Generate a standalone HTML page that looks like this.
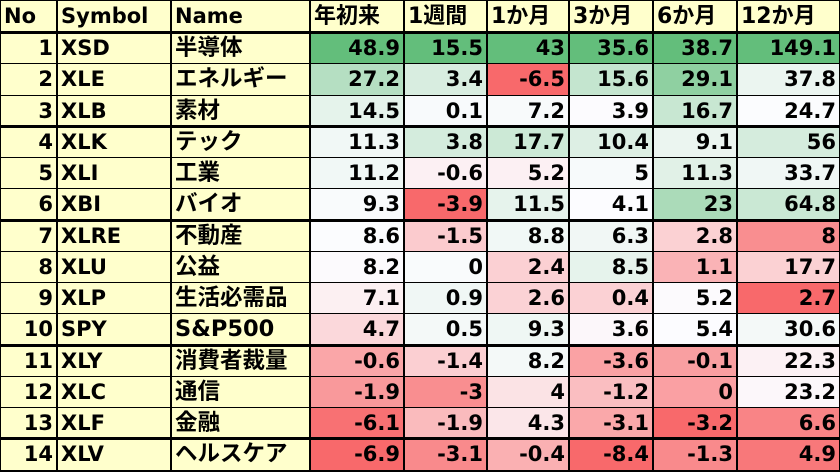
<!DOCTYPE html>
<html><head><meta charset="utf-8"><style>
body{margin:0;width:840px;height:472px;overflow:hidden;background:#FFFFCC;position:relative;font-family:"DejaVu Sans","Noto Sans CJK JP",sans-serif;font-weight:bold;font-size:21px;color:#000}
.c{position:absolute;box-sizing:border-box;line-height:31px;white-space:nowrap;overflow:hidden}
.l{position:absolute;background:#000}
</style></head><body>
<script>
const xs=[0,57,171,310,404,487,569,653,737,840];
const hdr=["No","Symbol","Name","年初来","1週間","1か月","3か月","6か月","12か月"];
const rows=[
["1","XSD","半導体",48.9,15.5,43,35.6,38.7,149.1],
["2","XLE","エネルギー",27.2,3.4,-6.5,15.6,29.1,37.8],
["3","XLB","素材",14.5,0.1,7.2,3.9,16.7,24.7],
["4","XLK","テック",11.3,3.8,17.7,10.4,9.1,56],
["5","XLI","工業",11.2,-0.6,5.2,5,11.3,33.7],
["6","XBI","バイオ",9.3,-3.9,11.5,4.1,23,64.8],
["7","XLRE","不動産",8.6,-1.5,8.8,6.3,2.8,8],
["8","XLU","公益",8.2,0,2.4,8.5,1.1,17.7],
["9","XLP","生活必需品",7.1,0.9,2.6,0.4,5.2,2.7],
["10","SPY","S&P500",4.7,0.5,9.3,3.6,5.4,30.6],
["11","XLY","消費者裁量",-0.6,-1.4,8.2,-3.6,-0.1,22.3],
["12","XLC","通信",-1.9,-3,4,-1.2,0,23.2],
["13","XLF","金融",-6.1,-1.9,4.3,-3.1,-3.2,6.6],
["14","XLV","ヘルスケア",-6.9,-3.1,-0.4,-8.4,-1.3,4.9]];
const ys=[0,32];for(let i=1;i<=14;i++)ys.push(32+i*31.25);
let h="";
function mix(a,b,t){return a.map((v,i)=>Math.round(v+(b[i]-v)*t));}
const W=[252,252,255],G=[99,190,123],R=[248,105,107];
const stats=[];
for(let c=3;c<9;c++){const v=rows.map(r=>r[c]).sort((a,b)=>a-b);stats[c]={min:v[0],max:v[13],mid:(v[6]+v[7])/2};}
hdr.forEach((t,c)=>{h+=`<div class="c" style="left:${xs[c]+4}px;top:0;width:${xs[c+1]-xs[c]-6}px;height:32px;line-height:33px;font-size:${c>=3?22:21}px">${t}</div>`;});
rows.forEach((r,i)=>{const y=ys[i+1],hh=ys[i+2]-y;
r.forEach((v,c)=>{let bg="transparent",al="left",pad="padding-left:4px",fs="";
if(c==2)fs="font-size:22.5px;";
if(c==0){al="right";pad="padding-right:4px";}
if(c>=3){al="right";pad="padding-right:4px";const s=stats[c];let col;
if(v>=s.mid)col=mix(W,G,s.max==s.mid?0:(v-s.mid)/(s.max-s.mid));else col=mix(W,R,(s.mid-v)/(s.mid-s.min));
bg=`rgb(${col})`;}
h+=`<div class="c" style="${fs}left:${xs[c]}px;top:${y}px;width:${xs[c+1]-xs[c]}px;height:${hh}px;background:${bg};text-align:${al};${pad};line-height:${hh+1}px">${String(v).replace('&','&amp;')}</div>`;});});
xs.forEach((x,i)=>{const w=(i==0||i==9)?1:2;h+=`<div class="l" style="left:${Math.min(x,840-w)-(i>0&&i<9?1:0)}px;top:0;width:${w}px;height:472px"></div>`;});
ys.forEach((y,i)=>{if(i==0)return;const thick=[1,4,7,11,14].includes(i);const w=thick?3:1;h+=`<div class="l" style="left:0;top:${Math.round(y)-(thick?1:0)}px;width:840px;height:${w}px"></div>`;});
h+=`<div class="l" style="left:0;top:470px;width:840px;height:2px"></div>`;
h+=`<div class="l" style="left:0;top:0;width:840px;height:1px"></div>`;
document.body.innerHTML=h;
</script>
</body></html>
